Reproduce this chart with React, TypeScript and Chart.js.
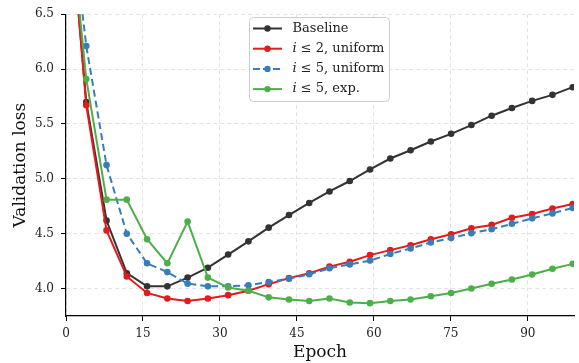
import React, { useEffect, useRef } from "react";
import { Chart, registerables } from "chart.js";

Chart.register(...registerables);

const epochs = [0, 3.95, 7.9, 11.85, 15.8, 19.75, 23.7, 27.65, 31.6, 35.55, 39.5, 43.45, 47.4, 51.35, 55.3, 59.25, 63.2, 67.15, 71.1, 75.05, 79.0, 82.95, 86.9, 90.85, 94.8, 98.75];
const baseline = [7.85, 5.70, 4.62, 4.14, 4.02, 4.02, 4.10, 4.19, 4.31, 4.43, 4.555, 4.67, 4.78, 4.885, 4.98, 5.085, 5.185, 5.26, 5.34, 5.41, 5.49, 5.575, 5.645, 5.71, 5.765, 5.835];
const uniform2 = [7.85, 5.67, 4.53, 4.11, 3.96, 3.91, 3.887, 3.91, 3.94, 3.98, 4.04, 4.095, 4.14, 4.20, 4.245, 4.305, 4.35, 4.395, 4.45, 4.495, 4.55, 4.58, 4.645, 4.68, 4.73, 4.77];
const uniform5 = [7.8, 6.21, 5.125, 4.50, 4.23, 4.15, 4.045, 4.02, 4.02, 4.03, 4.06, 4.09, 4.13, 4.185, 4.22, 4.255, 4.315, 4.365, 4.42, 4.46, 4.505, 4.54, 4.59, 4.64, 4.685, 4.735];
const exp5 = [7.75, 5.91, 4.81, 4.81, 4.45, 4.23, 4.61, 4.10, 4.01, 3.98, 3.92, 3.90, 3.887, 3.91, 3.873, 3.867, 3.887, 3.90, 3.93, 3.96, 4.0, 4.044, 4.083, 4.128, 4.18, 4.225];

const xTicks = [0, 15, 30, 45, 60, 75, 90];
const yTicks = [4.0, 4.5, 5.0, 5.5, 6.0, 6.5];

const FONT = "'DejaVu Serif', serif";

const series = [
  { label: "Baseline", italic: "", rest: "Baseline", color: "#333333", data: baseline, dash: [] as number[] },
  { label: "i ≤ 2, uniform", italic: "i", rest: " ≤ 2, uniform", color: "#e41a1c", data: uniform2, dash: [] as number[] },
  { label: "i ≤ 5, uniform", italic: "i", rest: " ≤ 5, uniform", color: "#377eb8", data: uniform5, dash: [7, 4] },
  { label: "i ≤ 5, exp.", italic: "i", rest: " ≤ 5, exp.", color: "#4daf4a", data: exp5, dash: [] as number[] },
];

export default function App() {
  const ref = useRef<HTMLCanvasElement>(null);

  useEffect(() => {
    if (!ref.current) return;

    const legendPlugin = {
      id: "customLegend",
      afterDraw(chart: any) {
        const ctx = chart.ctx as CanvasRenderingContext2D;
        ctx.save();
        const bx = 249.5, by = 17.5, bw = 140, bh = 84, r = 4;
        ctx.beginPath();
        ctx.moveTo(bx + r, by);
        ctx.lineTo(bx + bw - r, by);
        ctx.quadraticCurveTo(bx + bw, by, bx + bw, by + r);
        ctx.lineTo(bx + bw, by + bh - r);
        ctx.quadraticCurveTo(bx + bw, by + bh, bx + bw - r, by + bh);
        ctx.lineTo(bx + r, by + bh);
        ctx.quadraticCurveTo(bx, by + bh, bx, by + bh - r);
        ctx.lineTo(bx, by + r);
        ctx.quadraticCurveTo(bx, by, bx + r, by);
        ctx.closePath();
        ctx.fillStyle = "rgba(255,255,255,0.85)";
        ctx.fill();
        ctx.strokeStyle = "#cccccc";
        ctx.lineWidth = 1;
        ctx.stroke();

        const rows = [28.5, 48.7, 68.9, 89.1];
        series.forEach((s, i) => {
          const y = rows[i];
          ctx.strokeStyle = s.color;
          ctx.lineWidth = 2;
          ctx.setLineDash(s.dash.length ? [7, 3] : []);
          ctx.beginPath();
          ctx.moveTo(253, y);
          ctx.lineTo(282, y);
          ctx.stroke();
          ctx.setLineDash([]);
          ctx.fillStyle = s.color;
          ctx.beginPath();
          ctx.arc(267.5, y, 3.2, 0, Math.PI * 2);
          ctx.fill();

          ctx.fillStyle = "#222";
          ctx.textBaseline = "middle";
          ctx.textAlign = "left";
          let tx = 292.5;
          if (s.italic) {
            ctx.font = `italic 13px ${FONT}`;
            ctx.fillText(s.italic, tx, y);
            tx += ctx.measureText(s.italic).width;
          }
          ctx.font = `13px ${FONT}`;
          ctx.fillText(s.rest, tx, y);
        });
        ctx.restore();
      },
    };

    const chart = new Chart(ref.current, {
      type: "line",
      data: {
        datasets: series.map((s, i) => ({
          label: s.label,
          data: epochs.map((x, j) => ({ x, y: s.data[j] })),
          borderColor: s.color,
          backgroundColor: s.color,
          borderWidth: 2,
          borderDash: s.dash,
          pointRadius: 3.3,
          pointBorderWidth: 0,
          pointBackgroundColor: s.color,
          pointHoverRadius: 3.3,
          fill: false,
          tension: 0,
          order: 4 - i,
        })),
      },
      options: {
        responsive: false,
        devicePixelRatio: 1,
        animation: false,
        layout: { padding: { left: 0, top: 11, right: 5, bottom: 0 } },
        plugins: {
          legend: { display: false },
          tooltip: { enabled: false },
        },
        scales: {
          x: {
            type: "linear",
            min: 0,
            max: 99,
            afterBuildTicks: (s: any) => {
              s.ticks = xTicks.map((v) => ({ value: v }));
            },
            afterFit: (s: any) => {
              s.height = 47;
            },
            ticks: {
              font: { family: FONT, size: 12 },
              color: "#222",
              padding: 6,
              maxRotation: 0,
              autoSkip: false,
              callback: (v: any) => String(v),
            },
            grid: {
              color: "#e3e3e3",
              lineWidth: 1,
              tickColor: "#000",
              tickLength: 5,
              tickWidth: 1,
              tickBorderDash: [],
            },
            border: { color: "#000", width: 1.2, dash: [4, 3] },
            title: {
              display: true,
              text: "Epoch",
              font: { family: FONT, size: 17 },
              color: "#111",
              padding: { top: 0, bottom: 0 },
            },
          },
          y: {
            type: "linear",
            min: 3.75,
            max: 6.5,
            afterBuildTicks: (s: any) => {
              s.ticks = yTicks.map((v) => ({ value: v }));
            },
            afterFit: (s: any) => {
              s.width = 66;
            },
            ticks: {
              font: { family: FONT, size: 12 },
              color: "#222",
              padding: 7,
              autoSkip: false,
              callback: (v: any) => Number(v).toFixed(1),
            },
            grid: {
              color: "#e3e3e3",
              lineWidth: 1,
              tickColor: "#000",
              tickLength: 5,
              tickWidth: 1,
              tickBorderDash: [],
            },
            border: { color: "#000", width: 1.2, dash: [4, 3] },
            title: {
              display: true,
              text: "Validation loss",
              font: { family: FONT, size: 17 },
              color: "#111",
              padding: { top: 10, bottom: 0 },
            },
          },
        },
      },
      plugins: [legendPlugin],
    });

    return () => chart.destroy();
  }, []);

  return (
    <div style={{ position: "fixed", left: 0, top: 0, width: 579, height: 363, background: "#fff" }}>
      <canvas ref={ref} width={579} height={363} style={{ width: 579, height: 363, display: "block" }} />
    </div>
  );
}
